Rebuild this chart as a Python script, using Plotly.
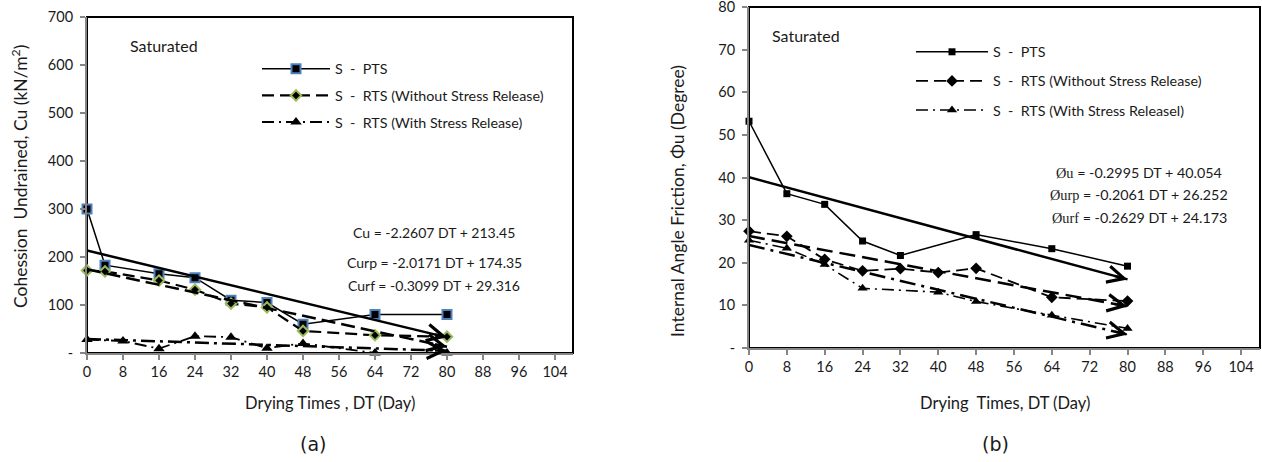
import plotly.graph_objects as go

# ---------------- Data: panel (a) Cohesion ----------------
a_pts_x = [0, 4, 16, 24, 32, 40, 48, 64, 80]
a_pts_y = [300, 183, 165, 157, 110, 105, 60, 80, 80]
a_rwo_x = [0, 4, 16, 24, 32, 40, 48, 64, 80]
a_rwo_y = [172, 170, 151, 132, 103, 95, 46, 37, 34]
a_rw_x = [0, 8, 16, 24, 32, 40, 48, 64, 80]
a_rw_y = [28, 25, 9, 35, 33, 10, 20, 0, 0]
a_slopes = [-2.2607, -2.0171, -0.3099]
a_inters = [213.45, 174.35, 29.316]
a_eq_text = ["Cu = -2.2607 DT + 213.45", "Curp = -2.0171 DT + 174.35", "Curf = -0.3099 DT + 29.316"]

# ---------------- Data: panel (b) Friction angle ----------------
b_pts_x = [0, 8, 16, 24, 32, 48, 64, 80]
b_pts_y = [53.2, 36.2, 33.7, 25.1, 21.7, 26.6, 23.3, 19.2]
b_rwo_x = [0, 8, 16, 24, 32, 40, 48, 64, 80]
b_rwo_y = [27.4, 26.2, 20.8, 18.1, 18.6, 17.7, 18.7, 11.9, 11.0]
b_rw_x = [0, 8, 16, 24, 40, 48, 64, 80]
b_rw_y = [25.3, 23.4, 19.6, 14.0, 13.1, 10.9, 7.7, 4.6]
b_slopes = [-0.2995, -0.2061, -0.2629]
b_inters = [40.054, 26.252, 24.173]
b_eq_names = ["Øu", "Øurp", "Øurf"]
b_eq_rest = [" = -0.2995 DT + 40.054", " = -0.2061 DT + 26.252", " = -0.2629 DT + 24.173"]

trend_x = [0, 80]
x_range = [0, 108]
a_yrange = [0, 700]
b_yrange = [0, 80]
x_ticks = list(range(0, 105, 8))
a_yticks = [0, 100, 200, 300, 400, 500, 600, 700]
a_yticktext = ["-", "100", "200", "300", "400", "500", "600", "700"]
b_yticks = [0, 10, 20, 30, 40, 50, 60, 70, 80]
b_yticktext = ["-", "10", "20", "30", "40", "50", "60", "70", "80"]

names_a = ["S\u00a0 -\u00a0 PTS", "S\u00a0 -\u00a0 RTS (Without Stress Release)", "S\u00a0 -\u00a0 RTS (With Stress Release)"]
names_b = ["S\u00a0 -\u00a0 PTS", "S\u00a0 -\u00a0 RTS (Without Stress Release)", "S\u00a0 -\u00a0 RTS (With Stress Releasel)"]

FONT = "Lato"
TXT_COLOR = "#1a1a1a"
W, H = 1262, 462


def px(xp):
    return xp / W


def py(yp):
    return 1 - yp / H


A_DOM_X = [px(87), px(573)]
A_DOM_Y = [py(353), py(17)]
B_DOM_X = [px(749), px(1260)]
B_DOM_Y = [py(348), py(7)]

fig = go.Figure()

# ---- Panel (a) data series ----
fig.add_trace(go.Scatter(x=a_pts_x, y=a_pts_y, mode="lines+markers", name=names_a[0],
                         line=dict(color="black", width=1.5),
                         marker=dict(symbol="square", size=9, color="black", line=dict(color="#4F81BD", width=2)),
                         xaxis="x", yaxis="y", legend="legend", legendgroup="a1", cliponaxis=False))
fig.add_trace(go.Scatter(x=a_rwo_x, y=a_rwo_y, mode="lines+markers", name=names_a[1],
                         line=dict(color="black", width=2.2, dash="12px,6px"),
                         marker=dict(symbol="diamond", size=8, color="black", line=dict(color="#9BBB59", width=2)),
                         xaxis="x", yaxis="y", legend="legend", legendgroup="a2", cliponaxis=False))
fig.add_trace(go.Scatter(x=a_rw_x, y=a_rw_y, mode="lines+markers", name=names_a[2],
                         line=dict(color="black", width=1.8, dash="12px,5px,2px,5px"),
                         marker=dict(symbol="triangle-up", size=10, color="black"),
                         xaxis="x", yaxis="y", legend="legend", legendgroup="a3", cliponaxis=False))

# ---- Panel (a) trendlines ----
a_dashes = ["solid", "14px,6px", "14px,5px,3px,5px"]
for s, c, d in zip(a_slopes, a_inters, a_dashes):
    fig.add_trace(go.Scatter(x=trend_x, y=[s * xx + c for xx in trend_x], mode="lines",
                             line=dict(color="black", width=2.5, dash=d), showlegend=False,
                             xaxis="x", yaxis="y", hoverinfo="skip", cliponaxis=False))

# ---- Panel (b) data series ----
fig.add_trace(go.Scatter(x=b_pts_x, y=b_pts_y, mode="lines+markers", name=names_b[0],
                         line=dict(color="black", width=1.5),
                         marker=dict(symbol="square", size=7, color="black"),
                         xaxis="x2", yaxis="y2", legend="legend2", legendgroup="b1", cliponaxis=False))
fig.add_trace(go.Scatter(x=b_rwo_x, y=b_rwo_y, mode="lines+markers", name=names_b[1],
                         line=dict(color="black", width=1.8, dash="12px,6px"),
                         marker=dict(symbol="diamond", size=9, color="black"),
                         xaxis="x2", yaxis="y2", legend="legend2", legendgroup="b2", cliponaxis=False))
fig.add_trace(go.Scatter(x=b_rw_x, y=b_rw_y, mode="lines+markers", name=names_b[2],
                         line=dict(color="black", width=1.6, dash="12px,5px,2px,5px"),
                         marker=dict(symbol="triangle-up", size=9, color="black"),
                         xaxis="x2", yaxis="y2", legend="legend2", legendgroup="b3", cliponaxis=False))

b_dashes = ["solid", "16px,7px", "16px,6px,3px,6px"]
for s, c, d in zip(b_slopes, b_inters, b_dashes):
    fig.add_trace(go.Scatter(x=trend_x, y=[s * xx + c for xx in trend_x], mode="lines",
                             line=dict(color="black", width=2.5, dash=d), showlegend=False,
                             xaxis="x2", yaxis="y2", hoverinfo="skip", cliponaxis=False))

annotations = []
# open arrowheads at the trendline ends
for s, c in zip(a_slopes, a_inters):
    annotations.append(dict(x=80, y=s * 80 + c, ax=77, ay=s * 77 + c, xref="x", yref="y", axref="x", ayref="y",
                            text="", showarrow=True, arrowhead=5, arrowwidth=2.5, arrowsize=1.3, arrowcolor="black"))
for s, c in zip(b_slopes, b_inters):
    annotations.append(dict(x=80, y=s * 80 + c, ax=77, ay=s * 77 + c, xref="x2", yref="y2", axref="x2", ayref="y2",
                            text="", showarrow=True, arrowhead=5, arrowwidth=2.5, arrowsize=1.3, arrowcolor="black"))

txt = dict(family=FONT, size=16, color=TXT_COLOR)
ttl = dict(family=FONT, size=16.5, color=TXT_COLOR)
vttl = dict(family=FONT, size=17.5, color=TXT_COLOR)
# Saturated labels
annotations.append(dict(x=px(128), y=py(46), xref="paper", yref="paper", text="Saturated", showarrow=False,
                        xanchor="left", yanchor="middle", font=txt))
annotations.append(dict(x=px(770), y=py(35), xref="paper", yref="paper", text="Saturated", showarrow=False,
                        xanchor="left", yanchor="middle", font=txt))
# equations (a)
for t, yp in zip(a_eq_text, [233, 262, 285]):
    annotations.append(dict(x=px(434), y=py(yp), xref="paper", yref="paper", text=t, showarrow=False,
                            xanchor="center", yanchor="middle", font=dict(family=FONT, size=14, color=TXT_COLOR)))
# equations (b)
for nm, rest, yp in zip(b_eq_names, b_eq_rest, [172, 194, 217]):
    annotations.append(dict(x=px(1139), y=py(yp), xref="paper", yref="paper",
                            text="<span style='font-family:Liberation Serif'>" + nm + "</span>" + rest,
                            showarrow=False, xanchor="center", yanchor="middle",
                            font=dict(family=FONT, size=14.3, color=TXT_COLOR)))
# axis titles
annotations.append(dict(x=px(19), y=py(177), xref="paper", yref="paper",
                        text="Cohession\u00a0 Undrained, Cu (kN/m<sup>2</sup>)", textangle=-90, showarrow=False,
                        xanchor="center", yanchor="middle", font=vttl))
annotations.append(dict(x=px(330), y=py(403), xref="paper", yref="paper", text="Drying Times , DT (Day)",
                        showarrow=False, xanchor="center", yanchor="middle", font=ttl))
annotations.append(dict(x=px(677), y=py(201), xref="paper", yref="paper",
                        text="Internal Angle Friction, Φu (Degree)", textangle=-90, showarrow=False,
                        xanchor="center", yanchor="middle", font=vttl))
annotations.append(dict(x=px(1005), y=py(403), xref="paper", yref="paper", text="Drying\u00a0 Times, DT (Day)",
                        showarrow=False, xanchor="center", yanchor="middle", font=ttl))
annotations.append(dict(x=px(313), y=py(444), xref="paper", yref="paper", text="(a)",
                        showarrow=False, xanchor="center", yanchor="middle",
                        font=dict(family="DejaVu Sans", size=19, color=TXT_COLOR)))
annotations.append(dict(x=px(995), y=py(444), xref="paper", yref="paper", text="(b)",
                        showarrow=False, xanchor="center", yanchor="middle",
                        font=dict(family="DejaVu Sans", size=19, color=TXT_COLOR)))

axis_common = dict(showgrid=False, zeroline=False, showline=True, linecolor="#868686", linewidth=2,
                   ticks="outside", ticklen=5, tickcolor="#868686", tickwidth=1.5, automargin=False,
                   ticklabeloverflow="allow", layer="above traces",
                   tickfont=dict(family=FONT, size=14.5, color=TXT_COLOR))

# black frame lines (top and right) as overlaying axes without ticks
frame_axis = dict(showgrid=False, zeroline=False, showline=True, linecolor="black", linewidth=2,
                  ticks="", showticklabels=False, automargin=False, fixedrange=True)

# black frame of each plot area (also as paper shapes, beneath the gray axis lines)
shapes = []
for dx, dy in [(A_DOM_X, A_DOM_Y), (B_DOM_X, B_DOM_Y)]:
    shapes.append(dict(type="rect", xref="paper", yref="paper", x0=dx[0], x1=dx[1], y0=dy[0], y1=dy[1],
                       line=dict(color="black", width=2), fillcolor="rgba(0,0,0,0)", layer="below"))

leg_common = dict(bgcolor="rgba(0,0,0,0)", font=dict(family=FONT, size=14.3, color=TXT_COLOR),
                  traceorder="grouped", xanchor="left", yanchor="top")

fig.update_layout(
    width=W, height=H, margin=dict(l=0, r=0, t=0, b=0, pad=0, autoexpand=False),
    plot_bgcolor="rgba(0,0,0,0)", paper_bgcolor="white", showlegend=True,
    xaxis=dict(domain=A_DOM_X, range=x_range, tickvals=x_ticks, anchor="y", **axis_common),
    yaxis=dict(domain=A_DOM_Y, range=a_yrange, tickvals=a_yticks, ticktext=a_yticktext,
               anchor="x", ticklabelstandoff=4, **axis_common),
    xaxis2=dict(domain=B_DOM_X, range=x_range, tickvals=x_ticks, anchor="y2", **axis_common),
    yaxis2=dict(domain=B_DOM_Y, range=b_yrange, tickvals=b_yticks, ticktext=b_yticktext,
                anchor="x2", ticklabelstandoff=4, **axis_common),
    xaxis3=dict(overlaying="x", side="top", anchor="y", range=x_range, **frame_axis),
    yaxis3=dict(overlaying="y", side="right", anchor="x", range=a_yrange, **frame_axis),
    xaxis4=dict(overlaying="x2", side="top", anchor="y2", range=x_range, **frame_axis),
    yaxis4=dict(overlaying="y2", side="right", anchor="x2", range=b_yrange, **frame_axis),
    legend=dict(x=px(257), y=py(53), itemwidth=68, tracegroupgap=5, **leg_common),
    legend2=dict(x=px(911), y=py(36), itemwidth=72, tracegroupgap=7.5, **leg_common),
    annotations=annotations, shapes=shapes,
)

fig.write_html("out.html", config={"displayModeBar": False},
               post_script="document.body.style.margin='0';document.body.style.overflow='hidden';")
